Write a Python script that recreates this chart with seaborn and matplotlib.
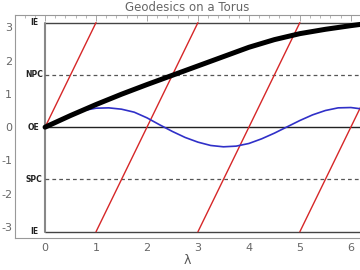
import numpy as np
import pandas as pd
import matplotlib
matplotlib.use("Agg")
import matplotlib.pyplot as plt
import seaborn as sns
from matplotlib.ticker import MultipleLocator

sns.set_style("white")
plt.rcParams['font.family'] = ['DejaVu Sans']
plt.rcParams['axes.unicode_minus'] = False

PI = np.pi
# thick black geodesic
black_x = [0, 0.5, 1.0, 1.5, 2.0, 2.5, 3.0, 3.5, 4.0, 4.5, 5.0, 5.5, 6.0, 6.3]
black_y = [0, 0.35, 0.68, 0.99, 1.28, 1.56, 1.84, 2.12, 2.40, 2.63, 2.81, 2.94, 3.05, 3.11]
# blue geodesic
blue_x = [0, 0.25, 0.5, 0.75, 1.0, 1.25, 1.5, 1.75, 2.0, 2.25, 2.5, 2.75, 3.0, 3.25,
          3.5, 3.75, 4.0, 4.25, 4.5, 4.75, 5.0, 5.25, 5.5, 5.75, 6.0, 6.25]
blue_y = [0, 0.17, 0.34, 0.50, 0.57, 0.58, 0.54, 0.45, 0.28, 0.07, -0.13, -0.31, -0.45, -0.55,
          -0.59, -0.57, -0.49, -0.35, -0.18, 0.01, 0.20, 0.37, 0.50, 0.58, 0.59, 0.54]
# red geodesic (wrapping segments)
red_segments = [([0, 1], [0, PI]), ([1, 3], [-PI, PI]), ([3, 5], [-PI, PI]), ([5, 7], [-PI, PI])]

ref_labels = ["IE", "NPC", "OE", "SPC", "IE"]
ref_values = [PI, PI / 2, 0, -PI / 2, -PI]
x_ticks = [0, 1, 2, 3, 4, 5, 6]
y_ticks = [-3, -2, -1, 0, 1, 2, 3]

fig = plt.figure(figsize=(3.6, 2.7), dpi=100)
ax = fig.add_axes([15 / 360, 1 - 238 / 270, 345 / 360, 223 / 270])

# reference lines
ax.plot([0, 7], [PI, PI], color="#444444", lw=1.0, zorder=1)
ax.plot([0, 7], [-PI, -PI], color="#444444", lw=1.0, zorder=1)
ax.plot([0, 7], [0, 0], color="#222222", lw=1.0, zorder=1)
ax.plot([0, 0], [-PI, PI], color="#888888", lw=1.5, zorder=1)
for v in (PI / 2, -PI / 2):
    ax.plot([0, 7], [v, v], color="#555555", lw=0.9, ls=(0, (3, 2.5)), zorder=1)

for sx, sy in red_segments:
    sns.lineplot(x=sx, y=sy, ax=ax, color="#d62728", lw=1.0, sort=False, zorder=2)

sns.lineplot(x=blue_x, y=blue_y, ax=ax, color="#3030c8", lw=1.2, zorder=3)
sns.lineplot(x=black_x, y=black_y, ax=ax, color="black", lw=3.6, zorder=4)

for lab, v in zip(ref_labels, ref_values):
    ax.text(-0.22, v, lab, ha="center", va="center", fontsize=5.5,
            fontweight="bold", color="#222222")

ax.set_xlim(-0.59, 6.18)
ax.set_ylim(-3.33, 3.37)
ax.set_xticks(x_ticks)
ax.set_yticks(y_ticks)
ax.xaxis.set_minor_locator(MultipleLocator(0.2))
ax.yaxis.set_minor_locator(MultipleLocator(0.2))
ax.tick_params(which="both", direction="in", top=True, right=False, colors="#999999",
               labelcolor="#666666", labelsize=8)
ax.tick_params(axis="y", pad=2)
ax.tick_params(which="major", length=4, width=0.6)
ax.tick_params(which="minor", length=2, width=0.5)
for s in ax.spines.values():
    s.set_color("#999999")
    s.set_linewidth(0.8)
ax.spines["right"].set_visible(False)
ax.set_xlabel("λ", color="#555555", fontsize=9, labelpad=1)
ax.set_title("Geodesics on a Torus", color="#666666", fontsize=8.5, pad=3)

fig.savefig("out.png", dpi=100)
